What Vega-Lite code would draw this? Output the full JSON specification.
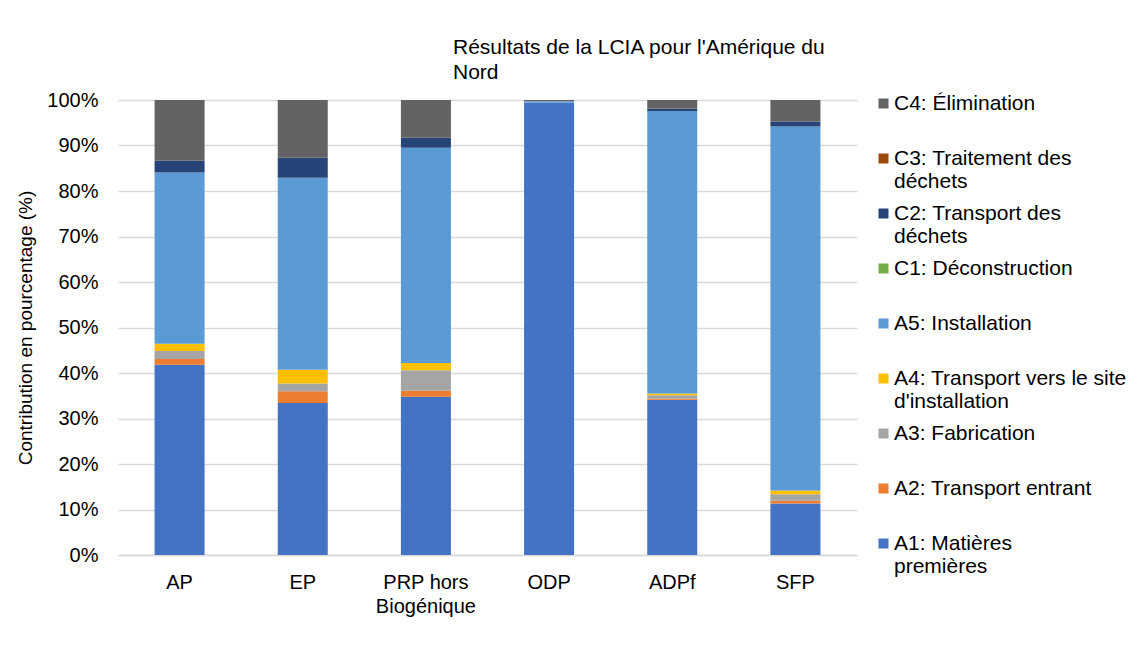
{
  "$schema": "https://vega.github.io/schema/vega-lite/v6.json",
  "autosize": {"type": "none"},
  "width": 739,
  "height": 455,
  "padding": {"left": 118, "top": 100, "right": 289, "bottom": 110},
  "background": "white",
  "title": {
    "text": ["Résultats de la LCIA pour l'Amérique du", "Nord"],
    "anchor": "start",
    "align": "left",
    "frame": "group",
    "dx": 335,
    "offset": 7,
    "fontSize": 21,
    "fontWeight": "normal",
    "font": "Liberation Sans",
    "color": "#000000",
    "lineHeight": 25
  },
  "data": {
    "values": [
      {"cat": "AP", "stage": "A1: Matières premières", "v": 41.8},
      {"cat": "AP", "stage": "A2: Transport entrant", "v": 1.3},
      {"cat": "AP", "stage": "A3: Fabrication", "v": 1.75},
      {"cat": "AP", "stage": "A4: Transport vers le site d'installation", "v": 1.6},
      {"cat": "AP", "stage": "A5: Installation", "v": 37.6},
      {"cat": "AP", "stage": "C1: Déconstruction", "v": 0},
      {"cat": "AP", "stage": "C2: Transport des déchets", "v": 2.6},
      {"cat": "AP", "stage": "C3: Traitement des déchets", "v": 0},
      {"cat": "AP", "stage": "C4: Élimination", "v": 13.35},
      {"cat": "EP", "stage": "A1: Matières premières", "v": 33.4},
      {"cat": "EP", "stage": "A2: Transport entrant", "v": 2.6},
      {"cat": "EP", "stage": "A3: Fabrication", "v": 1.7},
      {"cat": "EP", "stage": "A4: Transport vers le site d'installation", "v": 3.0},
      {"cat": "EP", "stage": "A5: Installation", "v": 42.2},
      {"cat": "EP", "stage": "C1: Déconstruction", "v": 0},
      {"cat": "EP", "stage": "C2: Transport des déchets", "v": 4.4},
      {"cat": "EP", "stage": "C3: Traitement des déchets", "v": 0},
      {"cat": "EP", "stage": "C4: Élimination", "v": 12.7},
      {"cat": "PRP hors Biogénique", "stage": "A1: Matières premières", "v": 34.8},
      {"cat": "PRP hors Biogénique", "stage": "A2: Transport entrant", "v": 1.3},
      {"cat": "PRP hors Biogénique", "stage": "A3: Fabrication", "v": 4.5},
      {"cat": "PRP hors Biogénique", "stage": "A4: Transport vers le site d'installation", "v": 1.6},
      {"cat": "PRP hors Biogénique", "stage": "A5: Installation", "v": 47.3},
      {"cat": "PRP hors Biogénique", "stage": "C1: Déconstruction", "v": 0},
      {"cat": "PRP hors Biogénique", "stage": "C2: Transport des déchets", "v": 2.2},
      {"cat": "PRP hors Biogénique", "stage": "C3: Traitement des déchets", "v": 0},
      {"cat": "PRP hors Biogénique", "stage": "C4: Élimination", "v": 8.3},
      {"cat": "ODP", "stage": "A1: Matières premières", "v": 99.4},
      {"cat": "ODP", "stage": "A2: Transport entrant", "v": 0},
      {"cat": "ODP", "stage": "A3: Fabrication", "v": 0},
      {"cat": "ODP", "stage": "A4: Transport vers le site d'installation", "v": 0},
      {"cat": "ODP", "stage": "A5: Installation", "v": 0.3},
      {"cat": "ODP", "stage": "C1: Déconstruction", "v": 0},
      {"cat": "ODP", "stage": "C2: Transport des déchets", "v": 0},
      {"cat": "ODP", "stage": "C3: Traitement des déchets", "v": 0},
      {"cat": "ODP", "stage": "C4: Élimination", "v": 0.3},
      {"cat": "ADPf", "stage": "A1: Matières premières", "v": 34.1},
      {"cat": "ADPf", "stage": "A2: Transport entrant", "v": 0.3},
      {"cat": "ADPf", "stage": "A3: Fabrication", "v": 0.7},
      {"cat": "ADPf", "stage": "A4: Transport vers le site d'installation", "v": 0.4},
      {"cat": "ADPf", "stage": "A5: Installation", "v": 62.1},
      {"cat": "ADPf", "stage": "C1: Déconstruction", "v": 0},
      {"cat": "ADPf", "stage": "C2: Transport des déchets", "v": 0.45},
      {"cat": "ADPf", "stage": "C3: Traitement des déchets", "v": 0},
      {"cat": "ADPf", "stage": "C4: Élimination", "v": 1.95},
      {"cat": "SFP", "stage": "A1: Matières premières", "v": 11.3},
      {"cat": "SFP", "stage": "A2: Transport entrant", "v": 0.6},
      {"cat": "SFP", "stage": "A3: Fabrication", "v": 1.45},
      {"cat": "SFP", "stage": "A4: Transport vers le site d'installation", "v": 0.8},
      {"cat": "SFP", "stage": "A5: Installation", "v": 80.0},
      {"cat": "SFP", "stage": "C1: Déconstruction", "v": 0},
      {"cat": "SFP", "stage": "C2: Transport des déchets", "v": 1.1},
      {"cat": "SFP", "stage": "C3: Traitement des déchets", "v": 0},
      {"cat": "SFP", "stage": "C4: Élimination", "v": 4.75}
    ]
  },
  "mark": {"type": "bar"},
  "encoding": {
    "x": {
      "field": "cat",
      "type": "nominal",
      "sort": null,
      "scale": {"paddingInner": 0.594, "paddingOuter": 0.297},
      "axis": {
        "title": null,
        "labelAngle": 0,
        "labelFontSize": 20,
        "labelFont": "Liberation Sans",
        "labelColor": "#000000",
        "labelPadding": 17,
        "labelLineHeight": 24,
        "labelBaseline": "top",
        "labelExpr": "datum.label == 'PRP hors Biogénique' ? ['PRP hors', 'Biogénique'] : datum.label",
        "ticks": false,
        "domain": true,
        "domainColor": "#d9d9d9",
        "domainWidth": 1.5,
        "grid": false
      }
    },
    "y": {
      "field": "v",
      "type": "quantitative",
      "stack": "zero",
      "scale": {"domain": [0, 100], "nice": false},
      "axis": {
        "title": "Contribution en pourcentage (%)",
        "titleFontSize": 19,
        "titleFont": "Liberation Sans",
        "titleFontWeight": "normal",
        "titleColor": "#000000",
        "titlePadding": 11,
        "values": [0, 10, 20, 30, 40, 50, 60, 70, 80, 90, 100],
        "labelExpr": "datum.value + '%'",
        "labelFontSize": 20,
        "labelFont": "Liberation Sans",
        "labelColor": "#000000",
        "labelPadding": 20,
        "ticks": false,
        "domain": false,
        "grid": true,
        "gridColor": "#d9d9d9",
        "gridWidth": 1.3
      }
    },
    "color": {
      "field": "stage",
      "type": "nominal",
      "scale": {
        "domain": [
          "C4: Élimination",
          "C3: Traitement des déchets",
          "C2: Transport des déchets",
          "C1: Déconstruction",
          "A5: Installation",
          "A4: Transport vers le site d'installation",
          "A3: Fabrication",
          "A2: Transport entrant",
          "A1: Matières premières"
        ],
        "range": ["#636363", "#9E480E", "#264478", "#70AD47", "#5B9BD5", "#FFC000", "#A5A5A5", "#ED7D31", "#4472C4"]
      },
      "legend": {
        "title": null,
        "orient": "none",
        "legendX": 755,
        "legendY": -7,
        "padding": 0,
        "symbolType": "square",
        "symbolSize": 100,
        "symbolStrokeWidth": 0,
        "labelFontSize": 21,
        "labelFont": "Liberation Sans",
        "labelColor": "#000000",
        "labelOffset": 0,
        "labelLimit": 300,
        "labelLineHeight": 24,
        "gridAlign": "all",
        "rowPadding": 10,
        "labelExpr": "datum.label == 'C3: Traitement des déchets' ? ['C3: Traitement des', 'déchets'] : datum.label == 'C2: Transport des déchets' ? ['C2: Transport des', 'déchets'] : datum.label == \"A4: Transport vers le site d'installation\" ? ['A4: Transport vers le site', \"d'installation\"] : datum.label == 'A1: Matières premières' ? ['A1: Matières', 'premières'] : datum.label"
      }
    },
    "order": {"field": "stage", "type": "ordinal", "sort": "ascending"}
  },
  "config": {
    "view": {"stroke": null},
    "font": "Liberation Sans"
  }
}
